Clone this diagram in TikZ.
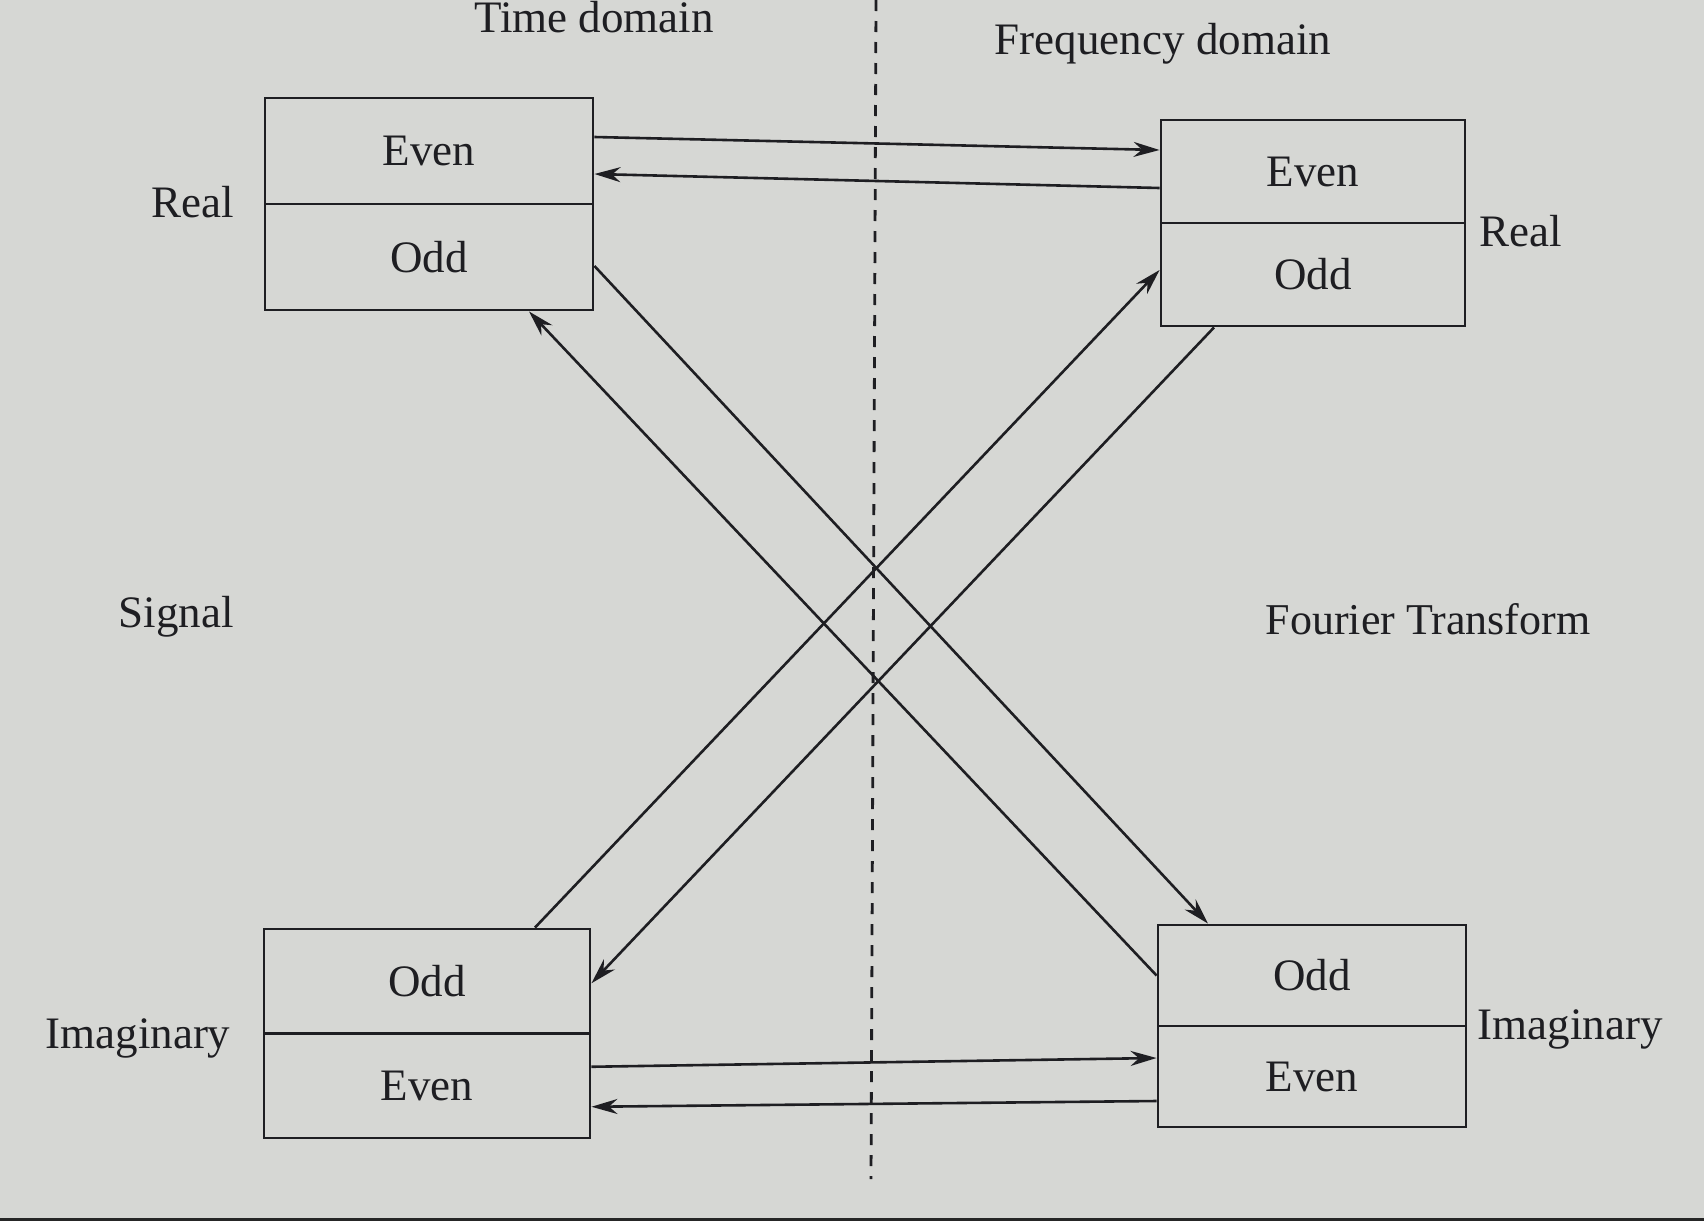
\documentclass[tikz,border=0pt]{standalone}
\usepackage{fontspec}
\setmainfont{Liberation Serif}
\usetikzlibrary{arrows.meta,calc}
\definecolor{paper}{RGB}{214,215,212}
\definecolor{ink}{RGB}{30,30,34}
\tikzset{
  cell/.style={draw=ink, line width=2.9pt, rectangle, inner sep=0pt, text=ink,
    font=\fontsize{45}{54}\selectfont},
  lbl/.style={text=ink, inner sep=0pt, anchor=base, font=\fontsize{45}{54}\selectfont},
  conn/.style={draw=ink, line width=2.6pt, -{Stealth[length=26pt,width=15pt]}},
  divider/.style={draw=ink, line width=2.8pt, dash pattern=on 11pt off 10pt}
}
\begin{document}
\begin{tikzpicture}[x=1pt,y=-1pt]
\fill[paper] (0,0) rectangle (1704,1221);
\fill[black!85] (0,1218) rectangle (1704,1221);
\useasboundingbox (0,0) rectangle (1704,1221);

% dashed divider
\coordinate (dtop) at (876,0);
\coordinate (dbot) at (871,1179);
\draw[divider] (dtop) -- (dbot);

% headings
\node[lbl] (td) at (594,32) {Time domain};
\node[lbl] (fd) at (1163,54) {Frequency domain};

% top-left boxes (time, real)
\node[cell, minimum width=328pt, minimum height=106pt] (TLe) at (429,151) {Even};
\node[cell, minimum width=328pt, minimum height=106pt] (TLo) at (429,257) {Odd};
% top-right boxes (frequency, real)
\node[cell, minimum width=304pt, minimum height=103pt] (TRe) at (1313,171.5) {Even};
\node[cell, minimum width=304pt, minimum height=103pt] (TRo) at (1313,274.5) {Odd};
% bottom-left boxes (time, imaginary)
\node[cell, minimum width=326pt, minimum height=104.5pt] (BLo) at (427,981.25) {Odd};
\node[cell, minimum width=326pt, minimum height=104.5pt] (BLe) at (427,1085.75) {Even};
% bottom-right boxes (frequency, imaginary)
\node[cell, minimum width=308pt, minimum height=101pt] (BRo) at (1312,975.5) {Odd};
\node[cell, minimum width=308pt, minimum height=101pt] (BRe) at (1312,1076.5) {Even};

% side labels
\node[lbl] (rl) at (193,217) {Real};
\node[lbl] (rr) at (1521,246) {Real};
\node[lbl] (sig) at (176,627) {Signal};
\node[lbl, font=\fontsize{44}{52}\selectfont] (ft) at (1428,634) {Fourier Transform};
\node[lbl] (il) at (138,1048) {Imaginary};
\node[lbl] (ir) at (1570,1039) {Imaginary};

% connectors
\draw[conn] ([yshift=14pt]TLe.east) -- ([yshift=21.5pt]TRe.west);
\draw[conn] ([yshift=-16.5pt]TRe.west) -- ([yshift=-23pt]TLe.east);
\draw[conn] ([yshift=-9pt]TLo.east) -- ([xshift=-104pt]BRo.north);
\draw[conn] (BRo.west) -- ([xshift=100pt]TLo.south);
\draw[conn] ([xshift=108pt]BLo.north) -- ([yshift=4.5pt]TRo.west);
\draw[conn] ([xshift=-99pt]TRo.south) -- ([yshift=-2pt]BLo.east);
\draw[conn] ([yshift=19pt]BLe.east) -- ([yshift=18.5pt]BRe.west);
\draw[conn] ([yshift=-24.5pt]BRe.west) -- ([yshift=-21pt]BLe.east);
\end{tikzpicture}
\end{document}
